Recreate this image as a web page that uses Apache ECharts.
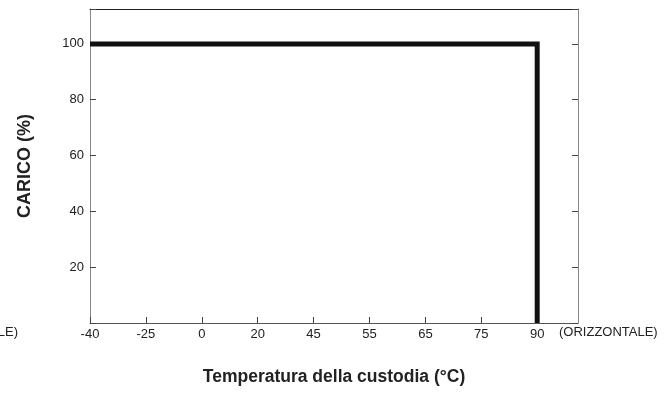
<!DOCTYPE html>
<html>
<head>
<meta charset="utf-8">
<script src="https://cdn.jsdelivr.net/npm/echarts@6/dist/echarts.min.js"></script>
<style>
html,body{margin:0;padding:0;background:#fff;}
#chart{width:666px;height:394px;}
</style>
</head>
<body>
<div id="chart"></div>
<script>
// Temperature tick labels (evenly spaced positions on the x axis)
const tempCategories = ['-40', '-25', '0', '20', '45', '55', '65', '75', '90'];
// Derating curve: temperature points and load (%)
const curveTemps = ['-40', '90', '90'];
const curveLoad = [100, 100, 0];
// Y tick labels shown
const loadTicks = [20, 40, 60, 80, 100];

const xAxisTitle = 'Temperatura della custodia (°C)';
const yAxisTitle = 'CARICO (%)';
const rightNote = '(ORIZZONTALE)';
const leftNote = '(VERTICALE)';

const FONT = '"Liberation Sans", Arial, sans-serif';

const curveData = curveTemps.map((t, i) => [tempCategories.indexOf(t), curveLoad[i]]);

const chart = echarts.init(document.getElementById('chart'), null, {renderer: 'canvas'});
chart.setOption({
  animation: false,
  backgroundColor: '#fff',
  grid: {left: 90, right: 88, top: 9, bottom: 71, containLabel: false},
  xAxis: [{
    type: 'value', min: 0, max: 8.73, interval: 1, position: 'bottom',
    axisLine: {show: true, onZero: false, lineStyle: {color: '#555', width: 1}},
    axisTick: {show: true, inside: true, length: 6, lineStyle: {color: '#444'}},
    splitLine: {show: false},
    axisLabel: {
      color: '#222', fontFamily: FONT, fontSize: 13, margin: 5,
      showMaxLabel: false,
      formatter: v => (Number.isInteger(v) && v < tempCategories.length) ? tempCategories[v] : ''
    },
    name: xAxisTitle, nameLocation: 'middle', nameGap: 45,
    nameTextStyle: {color: '#222', fontFamily: FONT, fontWeight: 'bold', fontSize: 17.5}
  }, {
    type: 'value', min: 0, max: 8.73, position: 'top',
    axisLine: {show: true, onZero: false, lineStyle: {color: '#222', width: 1}},
    axisTick: {show: false}, axisLabel: {show: false}, splitLine: {show: false}
  }],
  yAxis: [{
    type: 'value', min: 0, max: 112.5, interval: 20, position: 'left',
    axisLine: {show: true, onZero: false, lineStyle: {color: '#888', width: 1}},
    axisTick: {show: true, inside: true, length: 6, lineStyle: {color: '#444'}},
    splitLine: {show: false},
    axisLabel: {
      color: '#222', fontFamily: FONT, fontSize: 13, margin: 6,
      formatter: v => loadTicks.indexOf(v) >= 0 ? String(v) : ''
    },
    name: yAxisTitle, nameLocation: 'middle', nameGap: 56, nameRotate: 90,
    nameTextStyle: {color: '#222', fontFamily: FONT, fontWeight: 'bold', fontSize: 18}
  }, {
    type: 'value', min: 0, max: 112.5, interval: 20, position: 'right',
    axisLine: {show: true, onZero: false, lineStyle: {color: '#888', width: 1}},
    axisTick: {show: true, inside: true, length: 6, lineStyle: {color: '#444'}},
    axisLabel: {show: false}, splitLine: {show: false}
  }],
  series: [{
    type: 'line', xAxisIndex: 0, yAxisIndex: 0,
    data: curveData, symbol: 'none', silent: true,
    lineStyle: {color: '#111', width: 5, join: 'miter', cap: 'butt'}
  }],
  graphic: [{
    type: 'text', left: 559, top: 326,
    style: {text: rightNote, fill: '#222', font: '13px ' + FONT}
  }, {
    type: 'text', right: 648, top: 326,
    style: {text: leftNote, fill: '#222', font: '13px ' + FONT}
  }]
});
</script>
</body>
</html>
